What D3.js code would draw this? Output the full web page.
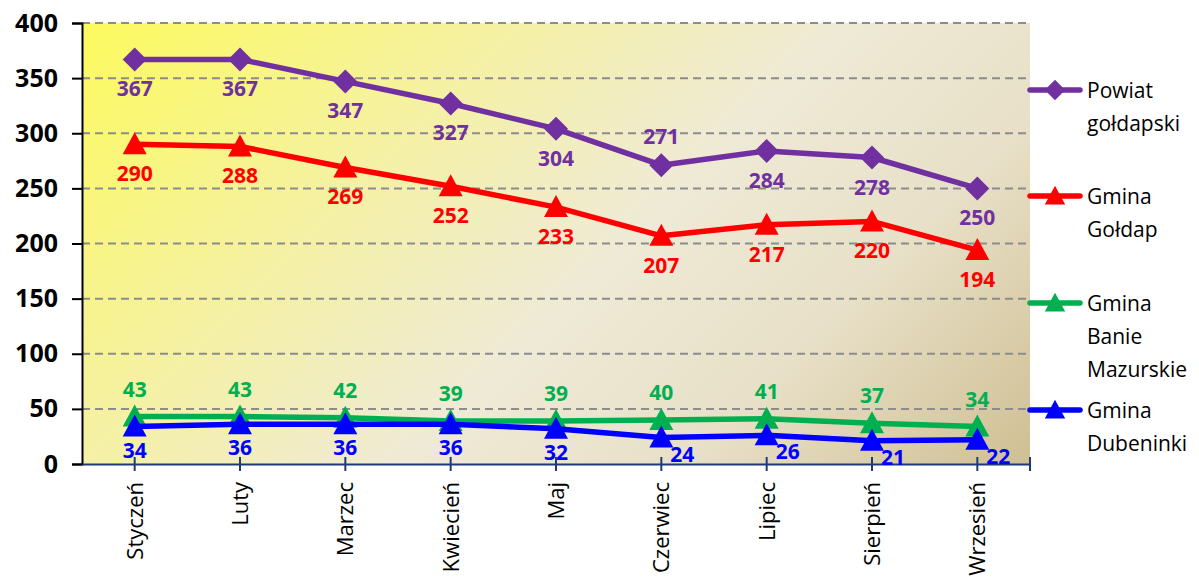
<!DOCTYPE html>
<html lang="pl">
<head>
<meta charset="utf-8">
<title>Bezrobotni</title>
<script src="https://cdn.jsdelivr.net/npm/d3@7"></script>
<style>
  body { margin: 0; background: #fff; }
  svg { display: block; }
</style>
</head>
<body>
<script>
// dane
var months = ["Styczeń", "Luty", "Marzec", "Kwiecień", "Maj", "Czerwiec", "Lipiec", "Sierpień", "Wrzesień"];
var powiat = [367, 367, 347, 327, 304, 271, 284, 278, 250];
var goldap = [290, 288, 269, 252, 233, 207, 217, 220, 194];
var banie = [43, 43, 42, 39, 39, 40, 41, 37, 34];
var dubeninki = [34, 36, 36, 36, 32, 24, 26, 21, 22];
var yTicks = [0, 50, 100, 150, 200, 250, 300, 350, 400];

var series = [
  {name: ["Powiat", "gołdapski"], values: powiat, color: "#7030A0", marker: "diamond", label: "below", legendY: 90},
  {name: ["Gmina", "Gołdap"], values: goldap, color: "#FF0000", marker: "triangle", label: "below", legendY: 196},
  {name: ["Gmina", "Banie", "Mazurskie"], values: banie, color: "#00B050", marker: "triangle", label: "above", legendY: 303},
  {name: ["Gmina", "Dubeninki"], values: dubeninki, color: "#0000FF", marker: "triangle", label: "belowAxis", legendY: 410}
];

var W = 1199, H = 578;
var pLeft = 82, pRight = 1030, pTop = 23, pBottom = 464;
var fontFam = "'Open Sans', sans-serif";

var svg = d3.select("body").append("svg").attr("width", W).attr("height", H);

var x = d3.scaleBand().domain(months).range([pLeft, pRight]);
var y = d3.scaleLinear().domain([0, 400]).range([pBottom, pTop]);
var cx = function(i) { return x(months[i]) + x.bandwidth() / 2; };

// tlo - gradient pod katem 45 stopni
var diag = ((pRight - pLeft) + (pBottom - pTop)) / 2;
var defs = svg.append("defs");
var grad = defs.append("linearGradient").attr("id", "bg")
  .attr("gradientUnits", "userSpaceOnUse")
  .attr("x1", pLeft).attr("y1", pTop).attr("x2", pLeft + diag).attr("y2", pTop + diag);
grad.append("stop").attr("offset", "0%").attr("stop-color", "#FCFA5E");
grad.append("stop").attr("offset", "30%").attr("stop-color", "#F5F1A2");
grad.append("stop").attr("offset", "55%").attr("stop-color", "#EFEAD6");
grad.append("stop").attr("offset", "75%").attr("stop-color", "#E8E0C8");
grad.append("stop").attr("offset", "100%").attr("stop-color", "#CFBF93");

svg.append("rect").attr("x", pLeft).attr("y", pTop)
  .attr("width", pRight - pLeft).attr("height", pBottom - pTop)
  .attr("fill", "url(#bg)");

// siatka
svg.append("g").selectAll("line").data(yTicks.filter(function(d) { return d > 0; }))
  .enter().append("line")
  .attr("x1", pLeft).attr("x2", pRight)
  .attr("y1", function(d) { return y(d); }).attr("y2", function(d) { return y(d); })
  .attr("stroke", "#8C8C8C").attr("stroke-width", 2).attr("stroke-dasharray", "8,5");

// os Y
var yAxis = svg.append("g").attr("transform", "translate(" + pLeft + ",0)")
  .call(d3.axisLeft(y).tickValues(yTicks).tickSize(10).tickPadding(14));
yAxis.selectAll("path, line").attr("stroke", "#000").attr("stroke-width", 2);
yAxis.selectAll("text").attr("fill", "#000")
  .style("font-family", fontFam)
  .style("font-weight", "bold").style("font-size", "25px");

// os X
var xAxis = svg.append("g").attr("transform", "translate(0," + pBottom + ")")
  .call(d3.axisBottom(x).tickSize(0).tickFormat(""));
xAxis.select("path").attr("stroke", "#1F3A78").attr("stroke-width", 2);
var xt = months.map(function(m, i) { return cx(i); }).concat([pRight]);
xAxis.selectAll(".xt").data(xt).enter().append("line")
  .attr("x1", function(d) { return d; }).attr("x2", function(d) { return d; })
  .attr("y1", -7).attr("y2", 7)
  .attr("stroke", "#1F3A78").attr("stroke-width", 2);

svg.append("g").selectAll("text").data(months).enter().append("text")
  .attr("transform", function(d, i) { return "translate(" + (cx(i) + 8) + "," + (pBottom + 18) + ") rotate(-90)"; })
  .attr("text-anchor", "end")
  .style("font-family", fontFam).style("font-size", "22px")
  .attr("fill", "#000")
  .text(function(d) { return d; });

// markery
function markerPath(type) {
  if (type === "diamond") return "M0,-12L12,0L0,12L-12,0Z";
  return "M0,-12L12,10L-12,10Z";
}

var line = d3.line().x(function(d, i) { return cx(i); }).y(function(d) { return y(d); });

series.forEach(function(s) {
  var g = svg.append("g");
  g.append("path").datum(s.values).attr("d", line)
    .attr("fill", "none").attr("stroke", s.color).attr("stroke-width", 5.5)
    .attr("stroke-linejoin", "round");
  g.selectAll(".m").data(s.values).enter().append("path")
    .attr("transform", function(d, i) { return "translate(" + cx(i) + "," + y(d) + ")"; })
    .attr("d", markerPath(s.marker)).attr("fill", s.color);
});

// etykiety danych
function nearAxis(d) { return y(d) > pBottom - 32; }
function labelDy(s, d, i) {
  var v = s.values;
  if (s.label === "above") return -20;
  if (s.label === "belowAxis") return nearAxis(d) ? 24 : 31;
  // lokalne minimum linii powiatu - etykieta nad punktem
  if (s.marker === "diamond" && i > 0 && i < v.length - 1 && d < v[i - 1] && d < v[i + 1]) return -21;
  return 37;
}
series.forEach(function(s) {
  svg.append("g").selectAll("text").data(s.values).enter().append("text")
    .attr("x", function(d, i) {
      if (s.label === "belowAxis" && nearAxis(d)) return cx(i) + 9;
      return cx(i);
    })
    .attr("y", function(d, i) { return y(d) + labelDy(s, d, i); })
    .attr("text-anchor", function(d) {
      return (s.label === "belowAxis" && nearAxis(d)) ? "start" : "middle";
    })
    .attr("fill", s.color)
    .style("font-family", fontFam).style("font-weight", "bold").style("font-size", "21px")
    .text(function(d) { return d; });
});

// legenda
series.forEach(function(s) {
  var g = svg.append("g").attr("transform", "translate(0," + s.legendY + ")");
  g.append("line").attr("x1", 1030).attr("x2", 1080).attr("y1", 0).attr("y2", 0)
    .attr("stroke", s.color).attr("stroke-width", 5.5).attr("stroke-linecap", "round");
  g.append("path").attr("transform", "translate(1055,0) scale(0.85)")
    .attr("d", markerPath(s.marker)).attr("fill", s.color);
  g.selectAll("text").data(s.name).enter().append("text")
    .attr("x", 1087).attr("y", function(d, i) { return 8 + i * 33; })
    .style("font-family", fontFam).style("font-size", "21px")
    .attr("fill", "#000")
    .text(function(d) { return d; });
});
</script>
</body>
</html>
